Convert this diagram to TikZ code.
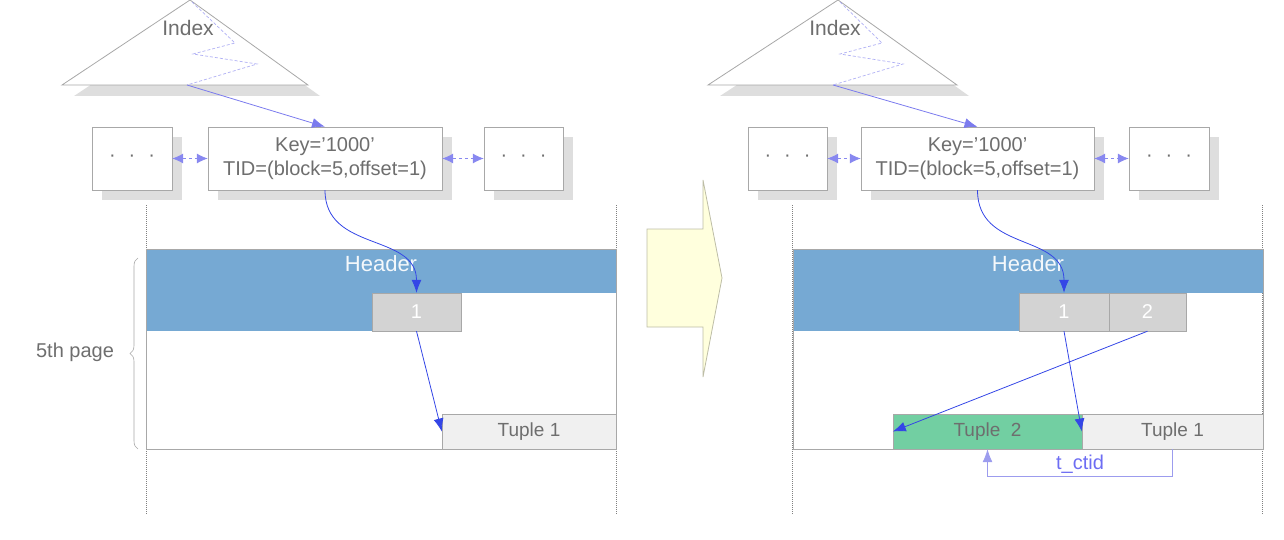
\documentclass[tikz,border=0pt]{standalone}
\usepackage{fontspec}
\setmainfont{Liberation Sans}
\usetikzlibrary{positioning,arrows.meta,shadows,decorations.pathreplacing}
\definecolor{txtgray}{HTML}{6E6E6E}
\definecolor{lineg}{HTML}{A8A8A8}
\definecolor{shadowg}{HTML}{DEDEDE}
\definecolor{hdrblue}{HTML}{76A9D3}
\definecolor{slotg}{HTML}{D3D3D3}
\definecolor{tupg}{HTML}{F0F0F0}
\definecolor{tupgreen}{HTML}{72CFA2}
\definecolor{lightarr}{HTML}{7B7BEE}
\definecolor{ptrblue}{HTML}{3446E6}
\definecolor{ctidblue}{HTML}{9C9CEE}
\definecolor{arrfill}{HTML}{FFFFDD}
\definecolor{arrline}{HTML}{BDBDA6}

\begin{document}
\begin{tikzpicture}[
    x=1pt,y=-1pt,
    every node/.style={text=txtgray},
    box/.style={draw=lineg,fill=white,minimum height=63pt,inner sep=0pt,align=center,
      font=\fontsize{20}{24}\selectfont,
      drop shadow={shadow xshift=10pt,shadow yshift=-10pt,fill=shadowg,opacity=1}},
    slot/.style={draw=lineg,fill=slotg,minimum height=38pt,inner sep=0pt,text=white,font=\fontsize{20}{24}\selectfont},
    tuple/.style={draw=lineg,fill=tupg,minimum height=35pt,inner sep=0pt,font=\fontsize{19}{22}\selectfont},
    hdrtext/.style={text=white!92!hdrblue,font=\fontsize{22}{26}\selectfont},
    idxtext/.style={font=\fontsize{21}{25}\selectfont},
    tri/.style={draw=lineg,fill=white,line width=0.8pt},
    zigzag/.style={draw=lightarr!60!white,dash pattern=on 3pt off 2pt,line width=0.7pt},
    guide/.style={draw=gray,dash pattern=on 1pt off 1pt,line width=0.8pt},
    idxarr/.style={-{Latex[length=13pt,width=10pt]},lightarr,line width=0.8pt},
    dblarr/.style={{Latex[length=11pt,width=10pt]}-{Latex[length=11pt,width=10pt]},lightarr!90!white,dashed,line width=0.8pt},
    ptrarr/.style={-{Latex[length=13pt,width=10pt]},ptrblue,line width=0.8pt},
    ctidarr/.style={-{Latex[length=13pt,width=10pt]},ctidblue,line width=0.8pt}
  ]
  \useasboundingbox (0,0) rectangle (1284,540);
  % guides
  \foreach \x in {146,616,792,1262}
    \draw[guide] (\x,205) -- (\x,515);

  % ---- before ----
  \fill[shadowg] (202,11) -- (74,96) -- (320,96) -- cycle;
  \draw[tri] (190,0) -- (62,85) -- (308,85) -- cycle;
  \draw[zigzag] (192,2) -- (235,43) -- (193,54) -- (257,64) -- (187,85);
  \coordinate (idxL) at (187,85);
  \node[idxtext] at (188,28) {Index};

  \node[box,minimum width=80pt] (dotsLa) at (132,158.5) {·\hspace{13pt}·\hspace{13pt}·};
  \node[box,minimum width=234pt] (keyL) at (325,158.5) {Key=’1000’\\TID=(block=5,offset=1)};
  \node[box,minimum width=79pt] (dotsLb) at (523.5,158.5) {·\hspace{13pt}·\hspace{13pt}·};

  \fill[hdrblue] (146,249) rectangle (616,293);
  \fill[hdrblue] (146,293) rectangle (372,331);
  \draw[lineg,line width=0.8pt] (146,249) rectangle (616,449);
  \node[hdrtext] (hdrL) at (381,264) {Header};
  \node[slot,minimum width=89pt] (slot1L) at (416.5,312) {1};
  \node[tuple,minimum width=174pt] (tup1L) at (529,431.5) {Tuple 1};

  \draw[lineg,line width=0.6pt,decorate,decoration={brace,amplitude=8pt}] (138,449) -- (138,258);
  \node[font=\fontsize{20}{24}\selectfont] (pageL) at (75,352) {5th page};

  \draw[idxarr] (idxL) -- (keyL.north);
  \draw[dblarr] (dotsLa.east) -- (keyL.west);
  \draw[dblarr] (keyL.east) -- (dotsLb.west);
  \draw[ptrarr] (keyL.south) .. controls +(0,62) and +(0,-60) .. (slot1L.north);
  \draw[ptrarr] (slot1L.south) -- (tup1L.west);

  % ---- transition ----
  \draw[arrline,fill=arrfill,line width=0.8pt] (647,229) -- (703,229) -- (703,180) -- (722,278)
    -- (703,377) -- (703,327) -- (647,327) -- cycle;

  % ---- after ----
  \fill[shadowg] (850,11) -- (720,96) -- (969,96) -- cycle;
  \draw[tri] (838,0) -- (708,85) -- (957,85) -- cycle;
  \draw[zigzag] (840,2) -- (882,43) -- (840,54) -- (903,64) -- (833,85);
  \coordinate (idxR) at (833,85);
  \node[idxtext] at (835,28) {Index};

  \node[box,minimum width=79pt] (dotsRa) at (787.5,158.5) {·\hspace{13pt}·\hspace{13pt}·};
  \node[box,minimum width=233pt] (keyR) at (977.5,158.5) {Key=’1000’\\TID=(block=5,offset=1)};
  \node[box,minimum width=80pt] (dotsRb) at (1169,158.5) {·\hspace{13pt}·\hspace{13pt}·};

  \fill[hdrblue] (793,249) rectangle (1263,293);
  \fill[hdrblue] (793,293) rectangle (1019,331);
  \draw[lineg,line width=0.8pt] (793,249) rectangle (1263,449);
  \node[hdrtext] (hdrR) at (1028,264) {Header};
  \node[slot,minimum width=90pt] (slot1R) at (1064,312) {1};
  \node[slot,minimum width=77pt] (slot2R) at (1147.5,312) {2};
  \node[tuple,fill=tupgreen,minimum width=189pt] (tup2R) at (987.5,431.5) {Tuple\ \ 2};
  \node[tuple,minimum width=181pt] (tup1R) at (1172.5,431.5) {Tuple 1};

  \draw[idxarr] (idxR) -- (keyR.north);
  \draw[dblarr] (dotsRa.east) -- (keyR.west);
  \draw[dblarr] (keyR.east) -- (dotsRb.west);
  \draw[ptrarr] (keyR.south) .. controls +(0,62) and +(0,-60) .. (slot1R.north);
  \foreach \a/\b in {slot1R/tup1R,slot2R/tup2R}
    \draw[ptrarr] (\a.south) -- (\b.west);
  \draw[ctidarr] (tup1R.south) -- ++(0,27) -| (tup2R.south)
    node[pos=0.25,above=-1pt,text=ctidblue!70!blue,font=\fontsize{20}{24}\selectfont] {t\_ctid};
\end{tikzpicture}
\end{document}
